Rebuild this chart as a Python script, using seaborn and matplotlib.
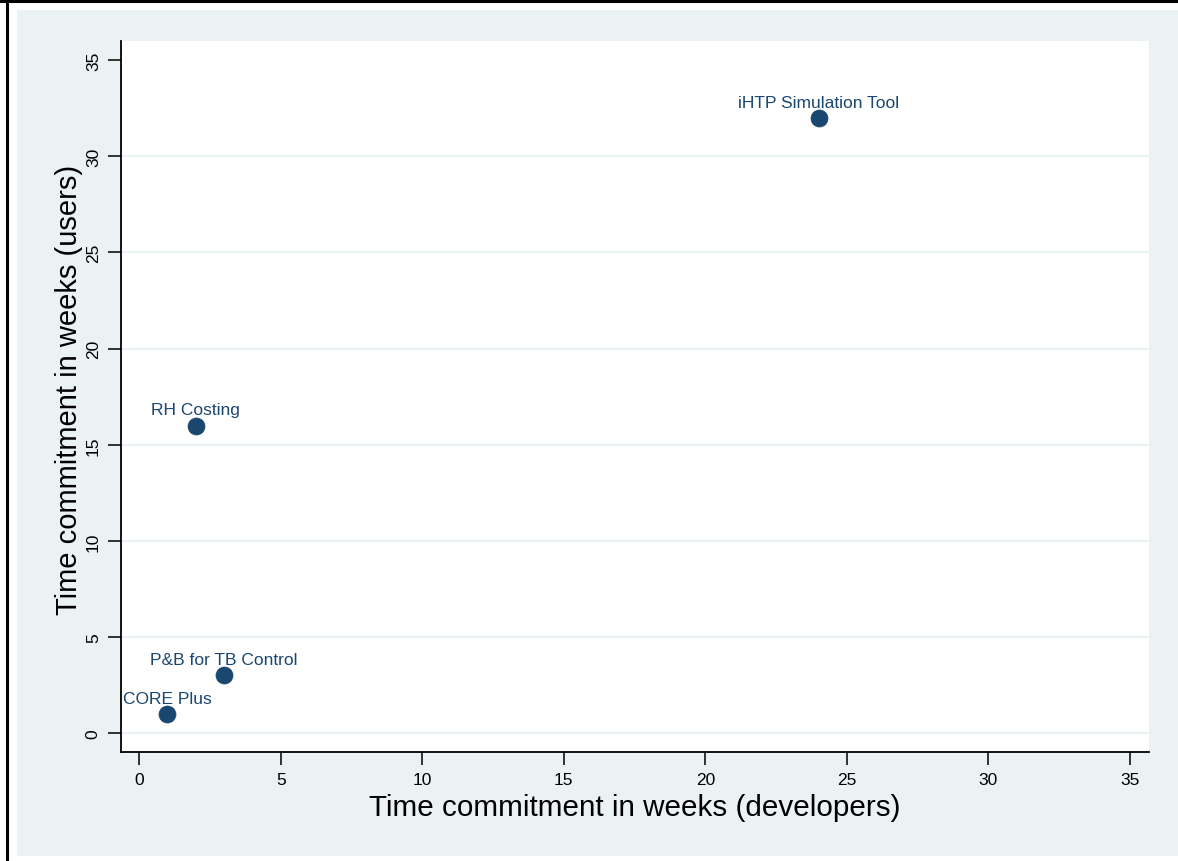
import matplotlib
matplotlib.use("Agg")
import matplotlib.pyplot as plt
import seaborn as sns
import pandas as pd
from matplotlib.patches import Rectangle
from matplotlib.lines import Line2D

# ---- data ----
tools = ["CORE Plus", "P&B for TB Control", "RH Costing", "iHTP Simulation Tool"]
dev_weeks = [1, 3, 2, 24]
user_weeks = [1, 3, 16, 32]
x_ticks = [0, 5, 10, 15, 20, 25, 30, 35]
y_ticks = [0, 5, 10, 15, 20, 25, 30, 35]
grid_vals = [0, 5, 10, 15, 20, 25, 30]

df = pd.DataFrame({"tool": tools, "dev": dev_weeks, "users": user_weeks})

sns.set_style("white")
plt.rcParams["font.family"] = ["Liberation Sans", "DejaVu Sans"]

NAVY = "#1a476f"
BG = "#eaf2f3"

W, H = 1178, 862
fig = plt.figure(figsize=(W / 100, H / 100), dpi=100)
fig.patch.set_facecolor("white")

# light background region and outer border lines
bgrect = Rectangle((0, 0), 1, 1, transform=fig.transFigure, facecolor=BG,
                   edgecolor="none", zorder=-10)
bgrect.set_bounds(17 / W, 1 - 857 / H, 1 - 17 / W, (857 - 11) / H)
fig.patches.append(bgrect)
fig.lines.append(Line2D([0, 1], [1 - 2 / H, 1 - 2 / H], transform=fig.transFigure,
                        color="black", lw=2.2))
fig.lines.append(Line2D([7 / W, 7 / W], [0, 1 - 2 / H], transform=fig.transFigure,
                        color="black", lw=2.2))

left, right, top, bottom = 121, 1149, 42, 753
ax = fig.add_axes([left / W, 1 - bottom / H, (right - left) / W, (bottom - top) / H])
ax.set_facecolor("white")

for g in grid_vals:
    ax.axhline(g, color=BG, lw=1.6, zorder=0)

sns.scatterplot(data=df, x="dev", y="users", ax=ax, s=150, color=NAVY,
                edgecolor=NAVY, linewidth=0.5, zorder=3, legend=False)

for _, r in df.iterrows():
    ax.annotate(r["tool"], (r["dev"], r["users"]), xytext=(0, 8),
                textcoords="offset points", ha="center", va="baseline",
                color=NAVY, fontsize=12.5)

ax.set_xlim(-0.64, 35.67)
ax.set_ylim(-0.98, 36.0)
ax.set_xticks(x_ticks)
ax.set_yticks(y_ticks)
ax.set_xticklabels([str(v) for v in x_ticks])
ax.set_yticklabels([str(v) for v in y_ticks], rotation=90, va="center")

for s in ["top", "right"]:
    ax.spines[s].set_visible(False)
for s in ["left", "bottom"]:
    ax.spines[s].set_color("black")
    ax.spines[s].set_linewidth(1.3)

ax.tick_params(axis="both", direction="out", length=9.5, width=1.1,
               color="black", labelsize=12.5, labelcolor="black", pad=5)
ax.tick_params(axis="x", bottom=True)
ax.tick_params(axis="y", left=True)

ax.set_xlabel("Time commitment in weeks (developers)", fontsize=21.3, color="black", labelpad=4.5)
ax.set_ylabel("Time commitment in weeks (users)", fontsize=21, color="black")
ax.yaxis.set_label_coords(-0.037, 0.51)

fig.savefig("out.png", dpi=100, facecolor=fig.get_facecolor())
